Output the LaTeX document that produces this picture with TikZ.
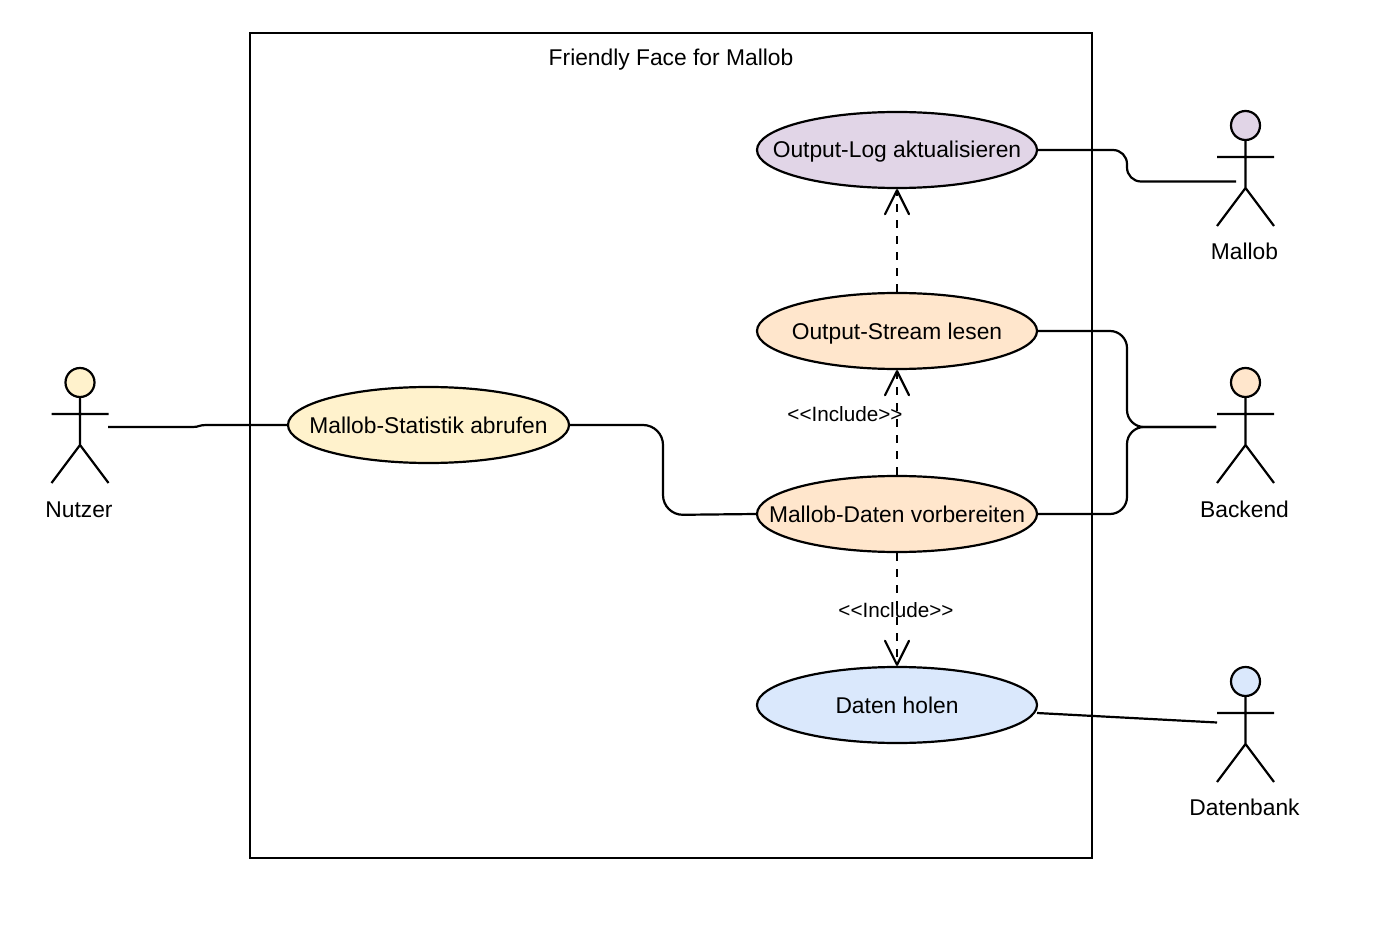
\documentclass[tikz,border=0pt]{standalone}
\usepackage{fontspec}
\setmainfont{Liberation Sans}
\usetikzlibrary{arrows.meta,calc,shapes.geometric}
\definecolor{cyellow}{HTML}{FFF2CC}
\definecolor{corange}{HTML}{FFE6CC}
\definecolor{cpurple}{HTML}{E1D5E7}
\definecolor{cblue}{HTML}{DAE8FC}
\newcommand{\nowidth}[1]{\makebox[0pt][c]{#1}}
\tikzset{
  x=1pt,y=-1pt,
  lw/.style={line width=2.2pt},
  txt/.style={font=\fontsize{22.8}{27}\selectfont,text=black,text height=21pt,text depth=5pt,inner sep=0pt},
  usecase/.style={txt,ellipse,draw=black,lw,minimum width=280,minimum height=76},
  actorhead/.style={circle,draw=black,lw,inner sep=0pt,minimum size=29},
  actorline/.style={draw=black,lw,line cap=butt},
  assoc/.style={draw=black,lw,rounded corners=#1},
  assoc/.default=17,
  incl/.style={draw=black,lw,dash pattern=on 8pt off 8pt,
    -{Straight Barb[length=24pt,width=24pt,line width=2.2pt,round=false]}},
  incllabel/.style={txt,font=\fontsize{20.7}{25}\selectfont}
}
\newcommand{\umlactor}[6]{%
  % name, centre x, head centre y, fill, label, label y
  \begin{scope}[shift={(#2,#3)}]
    \node[actorhead,fill=#4] (#1-head) at (0,0) {};
    \path[actorline] (#1-head.south) -- (0,62.5) (-28.5,31.5) -- (28.5,31.5)
      (-28.5,100.5) -- (0,62.5) -- (28.5,100.5);
  \end{scope}
  \node[txt] (#1) at (#2-1,#6) {#5};
}
\begin{document}
\begin{tikzpicture}
\useasboundingbox (0,0) rectangle (1379,933);
\fill[white] (0,0) rectangle (1379,933);
\draw[lw] (250,33) rectangle (1092,858);
\node[txt] (title) at (671,58) {Friendly Face for Mallob};

\node[usecase,fill=cpurple] (log) at (897,150) {\nowidth{Output-Log aktualisieren}};
\node[usecase,fill=corange] (stream) at (897,331) {\nowidth{Output-Stream lesen}};
\node[usecase,fill=corange] (prep) at (897,514) {\nowidth{Mallob-Daten vorbereiten}};
\node[usecase,fill=cblue] (fetch) at (897,705) {\nowidth{Daten holen}};
\node[usecase,fill=cyellow,minimum width=281] (stats) at (428.5,425) {\nowidth{Mallob-Statistik abrufen}};

\umlactor{nutzer}{80}{382.5}{cyellow}{Nutzer}{509}
\umlactor{mallob}{1245.5}{125.5}{cpurple}{Mallob}{252}
\umlactor{backend}{1245.5}{382.5}{corange}{Backend}{509}
\umlactor{datenbank}{1245.5}{681.5}{cblue}{Datenbank}{807}

\coordinate (nutzerport) at (108,427);
\coordinate (mallobport) at (1236,181.5);
\coordinate (backendport) at (1216,427);
\coordinate (datenbankport) at (1217,722.5);
\coordinate (fetchport) at (1037,713);

% associations
\draw[lw] (nutzerport) -- (193,427) .. controls (199,427) and (199,425) .. (206,425) -- (stats.west);
\draw[assoc=20] (stats.east) -- (663,425) -- (663,515) -- (prep.west);
\draw[assoc=14] (log.east) -- (1127,150) -- (1127,181.5) -- (mallobport);
\draw[assoc] (stream.east) -- (1127,331) -- (1127,427) -- (backendport);
\draw[assoc] (prep.east) -- (1127,514) -- (1127,427) -- (backendport);
\draw[assoc=0] (fetchport) -- (datenbankport);

% include labels (lines run over them)
\node[incllabel] (inclone) at (845,413) {<{}<Include>{}>};
\node[incllabel] (incltwo) at (896,609.5) {<{}<Include>{}>};

% dependencies
\draw[incl] (stream.north) -- (log.south);
\draw[incl] (prep.north) -- (stream.south);
\draw[incl] (prep.south) -- (fetch.north);
\end{tikzpicture}
\end{document}
